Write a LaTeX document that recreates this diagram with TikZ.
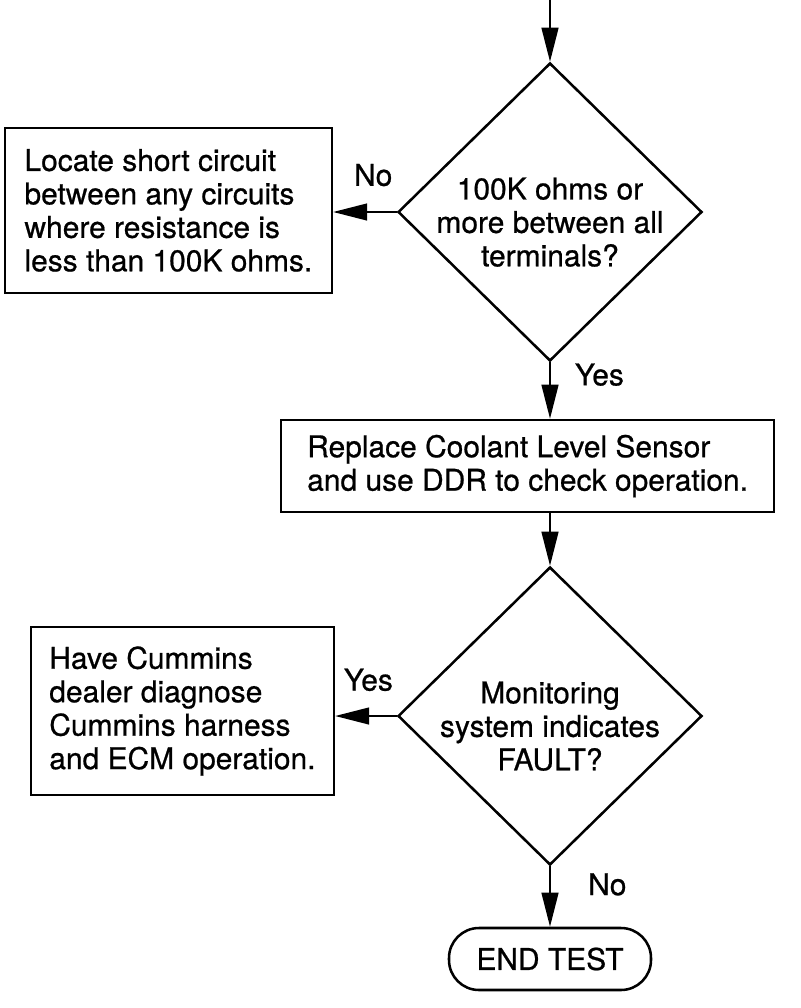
\documentclass[tikz,border=0pt]{standalone}
\usepackage{fontspec}
\setmainfont{TeX Gyre Heros}[RawFeature={embolden=0.7}]
\usetikzlibrary{shapes.geometric,arrows.meta}

\begin{document}
\begin{tikzpicture}[
    box/.style={draw, line width=1.8pt, align=left, inner sep=0pt},
    decision/.style={draw, diamond, line width=1.8pt, align=center, inner sep=-0.6cm, minimum width=7.6cm, minimum height=7.45cm},
    terminal/.style={draw, rounded corners=0.75cm, line width=1.8pt, minimum width=5.05cm, minimum height=1.55cm},
    flow/.style={line width=1.4pt, -{Triangle[length=0.85cm,width=0.42cm]}},
    answer/.style={inner sep=0pt},
    font=\fontsize{21.3}{23.8}\selectfont]
    \useasboundingbox (0, 0) rectangle (20, -25.2);
    \coordinate (entry) at (13.75, 0);
    \node[decision] (ohms) at (13.75, -5.3) {\rule{0pt}{30pt}100K ohms or\\more between all\\terminals?};
    \node[box, minimum width=8.175cm, minimum height=4.125cm] (short) at (4.21, -5.26) {Locate short circuit\\between any circuits\\where resistance is\\less than 100K ohms.};
    \node[box, minimum width=12.325cm, minimum height=2.3cm] (replace) at (13.19, -11.65) {Replace Coolant Level Sensor\\and use DDR to check operation.};
    \node[decision] (monitor) at (13.75, -17.9) {\rule{0pt}{30pt}Monitoring\\system indicates\\FAULT?};
    \node[box, minimum width=7.575cm, minimum height=4.2cm] (dealer) at (4.56, -17.775) {Have Cummins\\dealer diagnose\\Cummins harness\\and ECM operation.};
    \node[terminal] (endtest) at (13.75, -23.975) {END TEST};
    \draw[flow] (entry) -- (ohms.north);
    \draw[flow] (ohms.west) -- node[answer, pos=0.37, above=0.62cm]{No} (ohms.west -| short.east);
    \draw[flow] (ohms.south) -- node[answer, pos=0.22, right=0.6cm]{Yes} (ohms.south |- replace.north);
    \draw[flow] (replace.south -| monitor.north) -- (monitor.north);
    \draw[flow] (monitor.west) -- node[answer, pos=0.46, above=0.6cm]{Yes} (monitor.west -| dealer.east);
    \draw[flow] (monitor.south) -- node[answer, pos=0.3, right=0.93cm]{No} (endtest.north);
\end{tikzpicture}
\end{document}
